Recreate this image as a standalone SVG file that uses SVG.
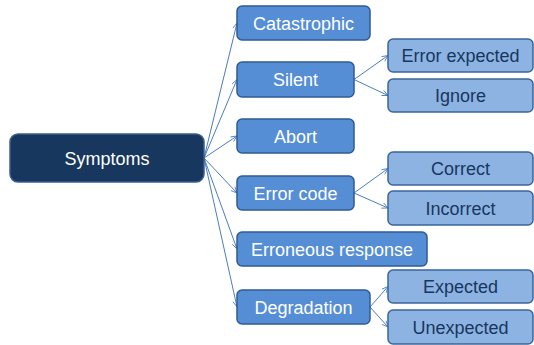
<svg xmlns="http://www.w3.org/2000/svg" width="534" height="345" viewBox="0 0 534 345">
  <defs>
    <marker id="arrow" viewBox="0 0 10 10" refX="9.5" refY="5" markerWidth="7" markerHeight="7" orient="auto" markerUnits="userSpaceOnUse">
      <path d="M1,1 L9.5,5 L1,9" fill="none" stroke="#4a7ebb" stroke-width="1.2"/>
    </marker>
    <style>
      text { font-family: "Liberation Sans", Arial, sans-serif; font-size: 18px; text-anchor: middle; }
      .root rect { fill: #17375e; stroke: #3b5f8f; stroke-width: 1.5; }
      .root text { fill: #ffffff; }
      .l1 rect { fill: #558ed5; stroke: #2f5b93; stroke-width: 1.5; }
      .l1 text { fill: #ffffff; }
      .l2 rect { fill: #8db3e2; stroke: #3a659c; stroke-width: 1.5; }
      .l2 text { fill: #17375e; }
      .conn line { stroke: #4a7ebb; stroke-width: 1; marker-end: url(#arrow); }
    </style>
  </defs>

  <g id="connectors" class="conn">
    <line x1="204" y1="158" x2="237" y2="23"/>
    <line x1="204" y1="158" x2="237" y2="79.5"/>
    <line x1="204" y1="158" x2="237" y2="136"/>
    <line x1="204" y1="158" x2="237" y2="193"/>
    <line x1="204" y1="158" x2="237" y2="249"/>
    <line x1="204" y1="158" x2="237" y2="307"/>
    <line x1="354" y1="79.5" x2="388" y2="55.5"/>
    <line x1="354" y1="79.5" x2="388" y2="95.5"/>
    <line x1="354" y1="193" x2="388" y2="168.5"/>
    <line x1="354" y1="193" x2="388" y2="208"/>
    <line x1="370" y1="307" x2="388" y2="286.5"/>
    <line x1="370" y1="307" x2="388" y2="327"/>
  </g>

  <g id="symptoms" class="root">
    <rect x="10" y="134" width="194" height="48" rx="8"/>
    <text x="107" y="165">Symptoms</text>
  </g>

  <g id="catastrophic" class="l1">
    <rect x="237" y="6" width="133" height="34" rx="5"/>
    <text x="303.5" y="29.5">Catastrophic</text>
  </g>
  <g id="silent" class="l1">
    <rect x="237" y="62" width="117" height="35" rx="5"/>
    <text x="295.5" y="86">Silent</text>
  </g>
  <g id="abort" class="l1">
    <rect x="237" y="119" width="117" height="34" rx="5"/>
    <text x="295.5" y="142.5">Abort</text>
  </g>
  <g id="error-code" class="l1">
    <rect x="237" y="176" width="117" height="34" rx="5"/>
    <text x="295.5" y="199.5">Error code</text>
  </g>
  <g id="erroneous-response" class="l1">
    <rect x="237" y="232" width="190" height="34" rx="5"/>
    <text x="332" y="255.5">Erroneous response</text>
  </g>
  <g id="degradation" class="l1">
    <rect x="237" y="290" width="133" height="34" rx="5"/>
    <text x="303.5" y="313.5">Degradation</text>
  </g>

  <g id="error-expected" class="l2">
    <rect x="388" y="39" width="145" height="33" rx="5"/>
    <text x="460.5" y="62">Error expected</text>
  </g>
  <g id="ignore" class="l2">
    <rect x="388" y="79" width="145" height="33" rx="5"/>
    <text x="460.5" y="102">Ignore</text>
  </g>
  <g id="correct" class="l2">
    <rect x="388" y="152" width="145" height="33" rx="5"/>
    <text x="460.5" y="175">Correct</text>
  </g>
  <g id="incorrect" class="l2">
    <rect x="388" y="191" width="145" height="34" rx="5"/>
    <text x="460.5" y="214.5">Incorrect</text>
  </g>
  <g id="expected" class="l2">
    <rect x="388" y="270" width="145" height="33" rx="5"/>
    <text x="460.5" y="293">Expected</text>
  </g>
  <g id="unexpected" class="l2">
    <rect x="388" y="310" width="145" height="34" rx="5"/>
    <text x="460.5" y="333.5">Unexpected</text>
  </g>
</svg>
